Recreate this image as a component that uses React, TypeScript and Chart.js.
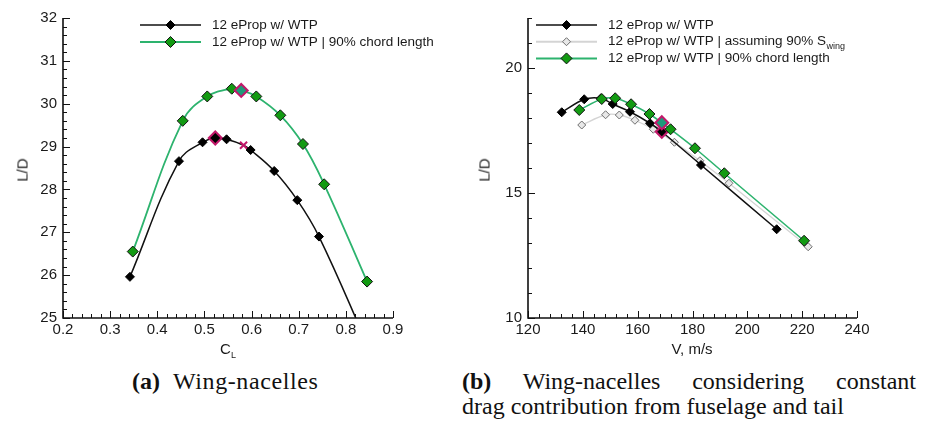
import React, { useEffect, useRef } from 'react';
import { Chart, registerables } from 'chart.js';
Chart.register(...registerables);

// ---------- data: panel (a) ----------
const clBlack = [0.342, 0.446, 0.496, 0.523, 0.547, 0.583, 0.598, 0.648, 0.697, 0.743, 0.845];
const ldBlackA = [25.96, 28.66, 29.10, 29.20, 29.17, 29.03, 28.92, 28.43, 27.75, 26.90, 24.40];
const clGreen = [0.348, 0.454, 0.506, 0.558, 0.578, 0.610, 0.661, 0.709, 0.754, 0.845];
const ldGreenA = [26.55, 29.60, 30.17, 30.35, 30.31, 30.17, 29.73, 29.06, 28.12, 25.85];

// ---------- data: panel (b) ----------
const vBlack = [132.3, 140.5, 146.6, 150.9, 157.2, 164.5, 168.8, 183.1, 210.7];
const ldBlackB = [18.23, 18.75, 18.79, 18.56, 18.25, 17.79, 17.45, 16.12, 13.55];
const vGray = [139.6, 148.3, 153.3, 159.0, 165.7, 173.4, 182.7, 193.3, 222.2];
const ldGrayB = [17.72, 18.13, 18.12, 17.91, 17.55, 17.03, 16.29, 15.39, 12.85];
const vGreen = [138.7, 146.9, 151.8, 157.6, 164.3, 168.8, 172.0, 180.9, 191.6, 220.7];
const ldGreenB = [18.32, 18.76, 18.79, 18.55, 18.16, 17.81, 17.55, 16.79, 15.79, 13.09];

const legendA = ['12 eProp w/ WTP', '12 eProp w/ WTP | 90% chord length'];
const legendB = ['12 eProp w/ WTP', '12 eProp w/ WTP | assuming 90% S', '12 eProp w/ WTP | 90% chord length'];

const MAGENTA = '#c2186a';
const GREEN_LINE = '#2db36e';
const GREEN_FILL = '#129a12';
const TEAL_FILL = '#1e9a7a';
const GRAY_LINE = '#d4d4d4';
const FONT = '"Liberation Sans", Arial, sans-serif';

const toXY = (xs: number[], ys: number[]) => xs.map((x, i) => ({ x, y: ys[i] }));

function axesPlugin(xMajor: number, xMinor: number, yMajor: number, yMinor: number) {
  return {
    id: 'tecAxes',
    afterDraw(chart: any) {
      const { ctx, chartArea: a, scales } = chart;
      const xs = scales.x, ys = scales.y;
      ctx.save();
      ctx.strokeStyle = '#111';
      ctx.lineWidth = 1;
      const isMajor = (v: number, m: number) => Math.abs(v / m - Math.round(v / m)) < 1e-6;
      const nx = Math.round((xs.max - xs.min) / xMinor);
      for (let i = 0; i <= nx; i++) {
        const v = xs.min + i * xMinor;
        const px = Math.round(xs.getPixelForValue(v)) + 0.5;
        const len = isMajor(v, xMajor) ? 7 : 4;
        ctx.beginPath();
        ctx.moveTo(px, a.bottom);
        ctx.lineTo(px, a.bottom - len);
        ctx.stroke();
      }
      const ny = Math.round((ys.max - ys.min) / yMinor);
      for (let i = 0; i <= ny; i++) {
        const v = ys.min + i * yMinor;
        const py = Math.round(ys.getPixelForValue(v)) + 0.5;
        const len = isMajor(v, yMajor) ? 7 : 4;
        ctx.beginPath();
        ctx.moveTo(a.left, py);
        ctx.lineTo(a.left + len, py);
        ctx.stroke();
      }
      ctx.lineWidth = 1.6;
      ctx.beginPath();
      ctx.moveTo(a.left, a.top);
      ctx.lineTo(a.left, a.bottom);
      ctx.lineTo(a.right, a.bottom);
      ctx.stroke();
      ctx.restore();
    },
  };
}

type LegendItem = { label: string; sub?: string; line: string; lw: number; fill: string; border: string; r: number };

function legendPlugin(items: LegendItem[], x1: number, x2: number, tx: number, y0: number, dy: number) {
  return {
    id: 'tecLegend',
    afterDraw(chart: any) {
      const ctx = chart.ctx;
      ctx.save();
      items.forEach((it, i) => {
        const y = y0 + i * dy;
        ctx.strokeStyle = it.line;
        ctx.lineWidth = it.lw;
        ctx.beginPath();
        ctx.moveTo(x1, y);
        ctx.lineTo(x2, y);
        ctx.stroke();
        const cx = (x1 + x2) / 2;
        ctx.beginPath();
        ctx.moveTo(cx - it.r, y);
        ctx.lineTo(cx, y - it.r);
        ctx.lineTo(cx + it.r, y);
        ctx.lineTo(cx, y + it.r);
        ctx.closePath();
        ctx.fillStyle = it.fill;
        ctx.fill();
        ctx.strokeStyle = it.border;
        ctx.lineWidth = 1;
        ctx.stroke();
        ctx.fillStyle = '#1a1a1a';
        ctx.font = `13.5px ${FONT}`;
        ctx.textBaseline = 'middle';
        ctx.textAlign = 'left';
        ctx.fillText(it.label, tx, y);
        if (it.sub) {
          const w = ctx.measureText(it.label).width;
          ctx.font = `9px ${FONT}`;
          ctx.fillText(it.sub, tx + w + 0.5, y + 5);
        }
      });
      ctx.restore();
    },
  };
}

const tickFont = { family: FONT, size: 15 };

function baseScales(xmin: number, xmax: number, xstep: number, ymin: number, ymax: number, ystep: number, yWidth: number, xFmt: (v: number) => string) {
  return {
    x: {
      type: 'linear',
      min: xmin,
      max: xmax,
      afterFit: (s: any) => { s.height = 27; },
      grid: { display: false, drawTicks: false },
      border: { display: false },
      ticks: { stepSize: xstep, padding: 3, font: tickFont, color: '#1a1a1a', maxRotation: 0, autoSkip: false, callback: (v: any) => xFmt(Number(v)) },
    },
    y: {
      type: 'linear',
      min: ymin,
      max: ymax,
      afterFit: (s: any) => { s.width = yWidth; },
      afterBuildTicks: (s: any) => { s.ticks = s.ticks.filter((t: any) => Math.abs(t.value / ystep - Math.round(t.value / ystep)) < 1e-6); },
      grid: { display: false, drawTicks: false },
      border: { display: false },
      ticks: { stepSize: ystep, padding: 6, font: tickFont, color: '#1a1a1a', autoSkip: false },
    },
  };
}

function ChartA() {
  const ref = useRef<HTMLCanvasElement>(null);
  useEffect(() => {
    const blackBorder = clBlack.map((_, i) => (i === 3 || i === 5 ? MAGENTA : '#000'));
    const blackFill = clBlack.map((_, i) => (i === 5 ? MAGENTA : '#000'));
    const blackStyle = clBlack.map((_, i) => (i === 5 ? 'crossRot' : 'rectRot'));
    const blackR = clBlack.map((_, i) => (i === 3 ? 6.5 : i === 5 ? 5 : 4.5));
    const blackBW = clBlack.map((_, i) => (i === 3 || i === 5 ? 2 : 1));
    const greenBorder = clGreen.map((_, i) => (i === 4 ? MAGENTA : '#111'));
    const greenFill = clGreen.map((_, i) => (i === 4 ? TEAL_FILL : GREEN_FILL));
    const greenR = clGreen.map((_, i) => (i === 4 ? 6.5 : 5.5));
    const greenBW = clGreen.map((_, i) => (i === 4 ? 2 : 1));
    const chart = new Chart(ref.current!, {
      type: 'line',
      data: {
        datasets: [
          {
            data: toXY(clGreen, ldGreenA), borderColor: GREEN_LINE, borderWidth: 1.8, tension: 0.4,
            pointStyle: 'rectRot', pointRadius: greenR, pointBackgroundColor: greenFill, pointBorderColor: greenBorder, pointBorderWidth: greenBW, order: 0,
          },
          {
            data: toXY(clBlack, ldBlackA), borderColor: '#111', borderWidth: 1.5, tension: 0.4,
            pointStyle: blackStyle, pointRadius: blackR, pointBackgroundColor: blackFill, pointBorderColor: blackBorder, pointBorderWidth: blackBW, order: 1,
          },
        ],
      } as any,
      options: {
        responsive: false,
        animation: false,
        devicePixelRatio: 1,
        layout: { padding: { left: 0, top: 18, right: 67, bottom: 0 } },
        plugins: { legend: { display: false }, tooltip: { enabled: false } },
        scales: baseScales(0.2, 0.9, 0.1, 25, 32, 1, 63, (v) => v.toFixed(1)) as any,
      },
      plugins: [
        axesPlugin(0.1, 0.02, 1, 0.2),
        legendPlugin([
          { label: legendA[0], line: '#111', lw: 1.5, fill: '#000', border: '#000', r: 4.5 },
          { label: legendA[1], line: GREEN_LINE, lw: 2, fill: GREEN_FILL, border: '#111', r: 5.5 },
        ], 140, 201, 212, 25, 17),
      ],
    } as any);
    return () => chart.destroy();
  }, []);
  return <canvas ref={ref} width={460} height={345} style={{ position: 'absolute', left: 0, top: 0, width: 460, height: 345 }} />;
}

function ChartB() {
  const ref = useRef<HTMLCanvasElement>(null);
  useEffect(() => {
    const blackBorder = vBlack.map((_, i) => (i === 6 ? MAGENTA : '#000'));
    const blackR = vBlack.map((_, i) => (i === 6 ? 6 : 4.5));
    const blackBW = vBlack.map((_, i) => (i === 6 ? 2 : 1));
    const greenBorder = vGreen.map((_, i) => (i === 5 ? MAGENTA : '#111'));
    const greenFill = vGreen.map((_, i) => (i === 5 ? TEAL_FILL : GREEN_FILL));
    const greenR = vGreen.map((_, i) => (i === 5 ? 6.5 : 5.5));
    const greenBW = vGreen.map((_, i) => (i === 5 ? 2 : 1));
    const chart = new Chart(ref.current!, {
      type: 'line',
      data: {
        datasets: [
          {
            data: toXY(vGreen, ldGreenB), borderColor: GREEN_LINE, borderWidth: 1.6, tension: 0.3,
            pointStyle: 'rectRot', pointRadius: greenR, pointBackgroundColor: greenFill, pointBorderColor: greenBorder, pointBorderWidth: greenBW, order: 0,
          },
          {
            data: toXY(vBlack, ldBlackB), borderColor: '#111', borderWidth: 1.5, tension: 0.3,
            pointStyle: 'rectRot', pointRadius: blackR, pointBackgroundColor: '#000', pointBorderColor: blackBorder, pointBorderWidth: blackBW, order: 1,
          },
          {
            data: toXY(vGray, ldGrayB), borderColor: GRAY_LINE, borderWidth: 1.3, tension: 0.3,
            pointStyle: 'rectRot', pointRadius: 4, pointBackgroundColor: '#e8e8e8', pointBorderColor: '#6e6e6e', pointBorderWidth: 1, order: 2,
          },
        ],
      } as any,
      options: {
        responsive: false,
        animation: false,
        devicePixelRatio: 1,
        layout: { padding: { left: 0, top: 18, right: 76, bottom: 0 } },
        plugins: { legend: { display: false }, tooltip: { enabled: false } },
        scales: baseScales(120, 240, 20, 10, 22, 5, 68, (v) => String(Math.round(v))) as any,
      },
      plugins: [
        axesPlugin(20, 4, 5, 1),
        legendPlugin([
          { label: legendB[0], line: '#111', lw: 1.5, fill: '#000', border: '#000', r: 4.5 },
          { label: legendB[1], sub: 'wing', line: GRAY_LINE, lw: 2, fill: '#e8e8e8', border: '#6e6e6e', r: 4 },
          { label: legendB[2], line: GREEN_LINE, lw: 2, fill: GREEN_FILL, border: '#111', r: 5.5 },
        ], 76, 137, 148, 25, 16.7),
      ],
    } as any);
    return () => chart.destroy();
  }, []);
  return <canvas ref={ref} width={473} height={345} style={{ position: 'absolute', left: 460, top: 0, width: 473, height: 345 }} />;
}

const axisTitle: React.CSSProperties = { position: 'absolute', fontFamily: FONT, fontSize: 15, color: '#1a1a1a', lineHeight: '15px', whiteSpace: 'nowrap' };
const capStyle: React.CSSProperties = { position: 'absolute', fontFamily: '"Liberation Serif", "Times New Roman", serif', fontSize: 24, lineHeight: '24px', color: '#111', whiteSpace: 'nowrap' };

export default function App() {
  return (
    <div style={{ position: 'absolute', left: 0, top: 0, width: 933, height: 421, background: '#fff', overflow: 'hidden' }}>
      <ChartA />
      <ChartB />
      <div style={{ ...axisTitle, left: 22, top: 170, transform: 'translate(-50%, -50%) rotate(-90deg)' }}>L/D</div>
      <div style={{ ...axisTitle, left: 484, top: 170, transform: 'translate(-50%, -50%) rotate(-90deg)' }}>L/D</div>
      <div style={{ ...axisTitle, left: 228, top: 341, transform: 'translateX(-50%)' }}>C<sub style={{ fontSize: 9, verticalAlign: 'baseline', position: 'relative', top: 4 }}>L</sub></div>
      <div style={{ ...axisTitle, left: 692, top: 341, transform: 'translateX(-50%)' }}>V, m/s</div>
      <div style={{ ...capStyle, left: 132, top: 369 }}>
        <b>(a)</b><span style={{ marginLeft: 13, letterSpacing: 0.6 }}>Wing-nacelles</span>
      </div>
      <div style={{ ...capStyle, left: 462, top: 369, width: 454, textAlign: 'justify', textAlignLast: 'justify' }}>
        <b>(b)</b> Wing-nacelles considering constant
      </div>
      <div style={{ ...capStyle, left: 462, top: 394 }}>drag contribution from fuselage and tail</div>
    </div>
  );
}
